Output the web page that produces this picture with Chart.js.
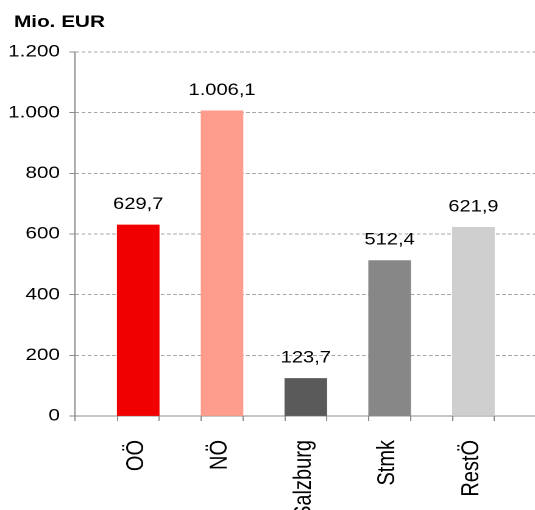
<!DOCTYPE html>
<html lang="de">
<head>
  <meta charset="UTF-8" />
  <title>Mio. EUR</title>
  <script src="https://cdn.jsdelivr.net/npm/chart.js"></script>
  <style>
    html, body {
      margin: 0;
      padding: 0;
      background: #ffffff;
      overflow: hidden;
    }
    /* the reference is stretched sideways, so draw narrow and widen it */
    .wrap {
      width: 439px;
      height: 510px;
      transform: scale(1.2187, 1);
      transform-origin: 0 0;
    }
  </style>
</head>
<body>
  <div class="wrap">
    <canvas id="chart" width="439" height="510" style="width:439px;height:510px"></canvas>
  </div>

  <script>
    const categories = ['OÖ', 'NÖ', 'Salzburg', 'Stmk', 'RestÖ'];
    const values = [629.7, 1006.1, 123.7, 512.4, 621.9];
    const barColors = ['#f00000', '#fe9c8e', '#5a5a5a', '#878787', '#cfcfcf'];
    const yTicks = [0, 200, 400, 600, 800, 1000, 1200];
    const unitLabel = 'Mio. EUR';

    const FONT = 'Liberation Sans, Arial, sans-serif';
    const AXIS_GREY = '#8c8c8c';
    const X_MIN = 0.245, X_MAX = 5.735;
    const HALF_BAR = 0.2495;

    // German number format: 1.006,1
    function fmtDe(v, decimals) {
      const parts = v.toFixed(decimals).split('.');
      parts[0] = parts[0].replace(/\B(?=(\d{3})+(?!\d))/g, '.');
      return parts.join(',');
    }

    // value labels above the bars + unit label top left
    const extras = {
      id: 'extras',
      afterDatasetsDraw(chart) {
        const ctx = chart.ctx;
        const meta = chart.getDatasetMeta(0);
        ctx.save();
        ctx.font = '16.5px ' + FONT;
        ctx.fillStyle = '#000';
        ctx.textAlign = 'center';
        ctx.textBaseline = 'alphabetic';
        meta.data.forEach((bar, i) => {
          ctx.fillText(fmtDe(values[i], 1), bar.x, bar.y - 16);
        });
        ctx.font = 'bold 17px ' + FONT;
        ctx.textAlign = 'left';
        ctx.fillText(unitLabel, 11.5, 27);
        ctx.restore();
      }
    };

    new Chart(document.getElementById('chart'), {
      type: 'bar',
      data: {
        datasets: [{
          data: values.map((v, i) => ({ x: i + 1, y: v })),
          backgroundColor: barColors,
          borderWidth: 0,
          barThickness: 34.3
        }]
      },
      options: {
        responsive: false,
        animation: false,
        devicePixelRatio: 2,
        layout: { padding: { left: 0, top: 52, right: 0, bottom: 0 } },
        plugins: {
          legend: { display: false },
          tooltip: { enabled: false }
        },
        scales: {
          // axis line + tick marks at the bar edges
          x: {
            type: 'linear',
            offset: false,
            min: X_MIN,
            max: X_MAX,
            weight: 0,
            afterBuildTicks(scale) {
              const t = [{ value: X_MIN }];
              categories.forEach((c, i) => {
                t.push({ value: i + 1 - HALF_BAR });
                t.push({ value: i + 1 + HALF_BAR });
              });
              scale.ticks = t;
            },
            afterFit(scale) { scale.height = 5; },
            grid: {
              offset: false,
              drawOnChartArea: false,
              tickLength: 5,
              tickColor: AXIS_GREY
            },
            border: { color: AXIS_GREY, width: 1 },
            ticks: { display: false, autoSkip: false }
          },
          // category names, rotated
          xLabels: {
            type: 'linear',
            position: 'bottom',
            offset: false,
            min: X_MIN,
            max: X_MAX,
            weight: 1,
            afterBuildTicks(scale) {
              scale.ticks = categories.map((c, i) => ({ value: i + 1 }));
            },
            afterFit(scale) { scale.height = 89; },
            grid: { display: false, offset: false },
            border: { display: false },
            ticks: {
              autoSkip: false,
              minRotation: 90,
              maxRotation: 90,
              padding: 11,
              labelOffset: -1.5,
              color: '#000',
              font: { family: FONT, size: 20 },
              callback: (v) => categories[Math.round(v) - 1]
            }
          },
          y: {
            min: yTicks[0],
            max: yTicks[yTicks.length - 1],
            afterBuildTicks(scale) {
              scale.ticks = yTicks.map(v => ({ value: v }));
            },
            afterFit(scale) { scale.width = 61.5; },
            grid: {
              color: '#a6a6a6',
              tickColor: AXIS_GREY,
              tickLength: 4.7
            },
            border: { color: AXIS_GREY, width: 1, dash: [3, 2] },
            ticks: {
              padding: 7.6,
              color: '#000',
              font: { family: FONT, size: 17 },
              callback: (v) => fmtDe(v, 0)
            }
          }
        }
      },
      plugins: [extras]
    });
  </script>
</body>
</html>
